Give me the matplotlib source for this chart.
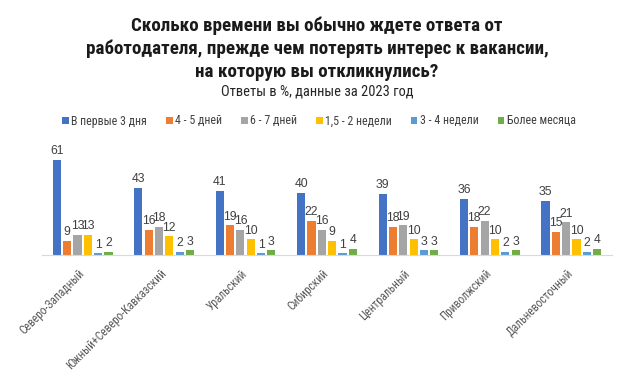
import matplotlib
matplotlib.use("Agg")
import matplotlib.pyplot as plt
from matplotlib import font_manager
import numpy as np
from matplotlib.patches import Patch

regions = ["Северо-Западный", "Южный+Северо-Кавказский", "Уральский", "Сибирский",
           "Центральный", "Приволжский", "Дальневосточный"]
series_names = ["В первые 3 дня", "4 - 5 дней", "6 - 7 дней", "1,5 - 2 недели",
                "3 - 4 недели", "Более месяца"]
v_3days = [61, 43, 41, 40, 39, 36, 35]
v_4_5 = [9, 16, 19, 22, 18, 18, 15]
v_6_7 = [13, 18, 16, 16, 19, 22, 21]
v_1_5_2w = [13, 12, 10, 9, 10, 10, 10]
v_3_4w = [1, 2, 1, 1, 3, 2, 2]
v_month = [2, 3, 3, 4, 3, 3, 4]
series = [v_3days, v_4_5, v_6_7, v_1_5_2w, v_3_4w, v_month]
colors = ["#4472C4", "#ED7D31", "#A5A5A5", "#FFC000", "#5B9BD5", "#70AD47"]
title_lines = ["Сколько времени вы обычно ждете ответа от",
               "работодателя, прежде чем потерять интерес к вакансии,",
               "на которую вы откликнулись?"]
subtitle = "Ответы в %, данные за 2023 год"

installed = {f.name for f in font_manager.fontManager.ttflist}
narrow_font = None
for cand in ["Liberation Sans Narrow", "Arial Narrow", "Roboto Condensed",
             "DejaVu Sans Condensed", "Open Sans Condensed"]:
    if cand in installed:
        narrow_font = cand
        break
narrow = ([narrow_font] if narrow_font else []) + ["Liberation Sans", "DejaVu Sans"]
regular = ["Liberation Sans", "DejaVu Sans"]

W, H = 628, 382
DPI = 100
fig = plt.figure(figsize=(W / DPI, H / DPI), dpi=DPI)
renderer = fig.canvas.get_renderer()
PX2PT = 72 / DPI


def fit_size(texts, size, target_px):
    w = max(t.get_window_extent(renderer).width for t in texts)
    new = size * target_px / w
    for t in texts:
        t.set_fontsize(new)
    return new


ax = fig.add_axes([42 / W, 1 - 255 / H, 570 / W, 109 / H])

x = np.arange(len(regions))
step = 0.127
width = 0.10
for i, (vals, c) in enumerate(zip(series, colors)):
    pos = x + (i - 2.5) * step
    ax.bar(pos, vals, width=width, color=c)
    for p, v in zip(pos, vals):
        ax.annotate(str(v), (p, v), xytext=(0, 2), textcoords="offset points",
                    ha="center", va="bottom", fontsize=8.8, family=regular, color="#404040")

ax.set_xlim(-0.5, len(regions) - 0.5)
ax.set_ylim(0, 70)
ax.set_yticks([])
for s in ["top", "right", "left"]:
    ax.spines[s].set_visible(False)
ax.spines["bottom"].set_color("#D9D9D9")
ax.set_xticks(x)
ax.set_xticklabels(regions, rotation=45, ha="right", va="center", rotation_mode="anchor",
                   fontsize=8, family=narrow, color="#595959")
ax.tick_params(axis="x", length=0, pad=12)

# fit tick label size to reference extents
fig.canvas.draw()
lbl = ax.get_xticklabels()[1]
bw = lbl.get_window_extent(renderer).width
tick_fs = 8 * 103 / bw
for t in ax.get_xticklabels():
    t.set_fontsize(tick_fs)
fig.canvas.draw()
top = ax.get_xticklabels()[1].get_window_extent(renderer).y1
target_top = H - 267
pad = 12 + (top - target_top) * PX2PT
ax.tick_params(axis="x", pad=pad)

cx = 317 / W
tl = []
for line, yy in zip(title_lines, [26, 49, 72]):
    tl.append(fig.text(cx, 1 - yy / H, line, ha="center", va="center", fontsize=12,
                       fontweight="bold", family=narrow, color="#1a1a1a"))
fit_size(tl, 12, 461)
st = fig.text(cx, 1 - 91 / H, subtitle, ha="center", va="center",
              fontsize=9, family=narrow, color="#262626")
fit_size([st], 9, 193)

# legend font fitted to reference entry width
probe = fig.text(0, 0, series_names[0], family=narrow, fontsize=8)
leg_fs = 8 * 76 / probe.get_window_extent(renderer).width
probe.remove()
fs_px = leg_fs / PX2PT
handles = [Patch(facecolor=c, label=n) for c, n in zip(colors, series_names)]
fig.legend(handles=handles, loc="center", bbox_to_anchor=(319 / W, 1 - 121 / H),
           ncol=6, frameon=False, prop={"family": narrow, "size": leg_fs},
           handlelength=6.5 / fs_px, handleheight=6.5 / fs_px,
           handletextpad=2.5 / fs_px, columnspacing=19 / fs_px,
           borderaxespad=0, borderpad=0, labelcolor="#404040")

fig.savefig("out.png", dpi=DPI)
